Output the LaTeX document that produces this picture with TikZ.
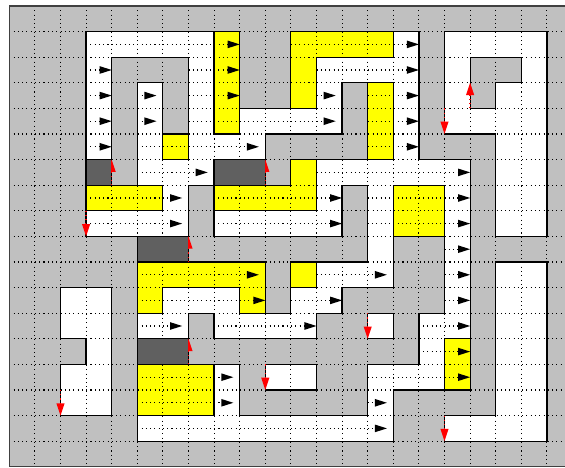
\documentclass[tikz,border=0pt]{standalone}
\usetikzlibrary{arrows.meta}
\definecolor{MazeGray}{RGB}{192,192,192}
\definecolor{MazeDark}{RGB}{96,96,96}
\definecolor{MazeYellow}{RGB}{255,255,0}
\definecolor{MazeRed}{RGB}{255,0,0}

\ExplSyntaxOn
\cs_new_protected:Npn \mazerow #1#2 { \tl_const:cn { c_maze_row_#1_tl } {#2} }
\cs_new:Npn \mazecell #1#2
  { \tl_item:cn { c_maze_row_ \int_eval:n {#1} _tl } { #2 + 1 } }
\ExplSyntaxOff

% one letter per cell: G wall, W free, Y yellow, D dark
\mazerow{0}{GGGGGGGGGGGGGGGGGGGGGG}
\mazerow{1}{GGGWWWWWYGGYYYYWGWWWWG}
\mazerow{2}{GGGWGGGWYGGYWWWWGWGGWG}
\mazerow{3}{GGGWGWGWYGGYWGYWGWGWWG}
\mazerow{4}{GGGWGWGWYWWWWGYWGWWWWG}
\mazerow{5}{GGGWGWYWWWGGGGYWGGGWWG}
\mazerow{6}{GGGDGWWWDDGYWWWWWWGWWG}
\mazerow{7}{GGGYYYWGYYYYWGWYYWGWWG}
\mazerow{8}{GGGWWWWGWWWWWGWYYWGWWG}
\mazerow{9}{GGGGGDDGGGGGGGWGGWGGGG}
\mazerow{10}{GGGGGYYYYYGYWWWGGWGWWG}
\mazerow{11}{GGWWGYWWWYGWWGGGGWGWWG}
\mazerow{12}{GGWWGWWGWWWWGGWGWWGWWG}
\mazerow{13}{GGGWGDDGGGGGGGGGWYGWWG}
\mazerow{14}{GGWWGYYYWGWWGGWWWYGWWG}
\mazerow{15}{GGWWGYYYWGGGGGWGGGGWWG}
\mazerow{16}{GGGGGWWWWWWWWWWGGWWWWG}
\mazerow{17}{GGGGGGGGGGGGGGGGGGGGGG}

\begin{document}
\begin{tikzpicture}[x=0.6cm, y=-0.6cm,
    wall/.style={line width=0.8pt, line cap=rect},
    dots/.style={line width=0.75pt, dash pattern=on 0.7pt off 2.15pt},
    jump/.style={MazeRed, line width=0.9pt, dash pattern=on 0.8pt off 2pt}]
    \useasboundingbox (-0.363,-0.234) rectangle (21.707,18.047);
    \clip (-0.363,-0.234) rectangle (21.707,18.047);
    % cells
    \fill[MazeGray] (0,0) rectangle (22,18);
    \foreach \ry in {0,...,17} {
        \foreach \cx in {0,...,21} {
            \edef\kind{\mazecell{\ry}{\cx}}
            \if W\kind \fill[white] (\cx-0.01,\ry-0.01) rectangle (\cx+1.01,\ry+1.01); \fi
            \if Y\kind \fill[MazeYellow] (\cx-0.01,\ry-0.01) rectangle (\cx+1.01,\ry+1.01); \fi
        }
    }
    % dotted grid
    \foreach \cx in {1,...,21} \draw[dots] (\cx,0) -- (\cx,18);
    \foreach \ry in {1,...,17} \draw[dots] (0,\ry) -- (22,\ry);
    % walls between cells of different kind
    \foreach \ry in {0,...,17} {
        \foreach \cx in {0,...,21} {
            \edef\kind{\mazecell{\ry}{\cx}}
            \ifnum\cx<21
                \edef\kindnb{\mazecell{\ry}{\cx+1}}
                \if\kind\kindnb\else \draw[wall] (\cx+1,\ry) -- ++(0,1); \fi
            \fi
            \ifnum\ry<17
                \edef\kindnb{\mazecell{\ry+1}{\cx}}
                \if\kind\kindnb\else \draw[wall] (\cx,\ry+1) -- ++(1,0); \fi
            \fi
        }
    }
    % red jumps
    \foreach \cx/\ya/\yb in {3/8/9, 17/4/5, 2/15/16, 10/14/15, 14/12/13, 17/16/17,
                             18/4/3, 4/7/6, 10/7/6, 7/10/9, 7/14/13} {
        \draw[jump] (\cx,\ya) -- (\cx,{\yb-0.4*(\yb-\ya)});
        \fill[MazeRed] (\cx,\yb) -- (\cx-0.16,{\yb-0.48*(\yb-\ya)})
            -- (\cx+0.16,{\yb-0.48*(\yb-\ya)}) -- cycle;
    }
    % dark blocks
    \fill[MazeDark] (3.02,6.02) rectangle (3.98,6.98);
    \fill[MazeDark] (8.02,6.02) rectangle (9.98,6.98);
    \fill[MazeDark] (5.02,9.02) rectangle (6.98,9.98);
    \fill[MazeDark] (5.02,13.02) rectangle (6.98,13.98);
    % moves to the right
    \foreach \ry/\xa/\xb in {1/3/9, 1/11/16,
                             2/3/4, 2/7/9, 2/12/16,
                             3/3/4, 3/5/5.75, 3/7/9, 3/12/12.75, 3/14/16,
                             4/3/4, 4/5/5.75, 4/7/12.75, 4/14/16,
                             5/3/4, 5/5/9.75, 5/14/16,
                             6/5/7.75, 6/12/18,
                             7/3/6.75, 7/8/13, 7/14/18,
                             8/3/6.75, 8/8/13, 8/14/18,
                             9/17/18,
                             10/5/9.75, 10/12/14.75, 10/17/18,
                             11/5/10, 11/11/13, 11/17/18,
                             12/5/6.75, 12/8/12, 12/16/18,
                             13/16/18,
                             14/5/8.75, 14/14/18,
                             15/5/8.75, 15/14/14.75,
                             16/5/14.75} {
        \draw[dots] (\xa,\ry+0.5) -- (\xb-0.4,\ry+0.5);
        \fill (\xb,\ry+0.5) -- ++(-0.47,-0.15) -- ++(0,0.3) -- cycle;
    }
    \draw[line width=0.9pt, black!75] (0,0) rectangle (22,18);
\end{tikzpicture}
\end{document}
